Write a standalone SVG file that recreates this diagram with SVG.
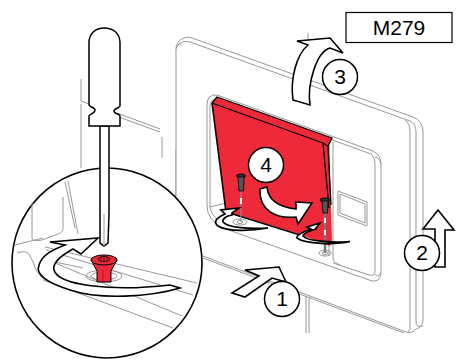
<svg xmlns="http://www.w3.org/2000/svg" width="459" height="361" viewBox="0 0 459 361">
<style>
.g{fill:none;stroke:#989898;stroke-width:1}
.gd{fill:none;stroke:#8a8a8a;stroke-width:.9}
.a{fill:#fff;stroke:#000;stroke-width:1.6;stroke-linejoin:miter}
.s{fill:#fff;stroke:#000;stroke-width:1.7;stroke-linejoin:miter}
.k{fill:none;stroke:#000;stroke-width:1.3}
.c{fill:#fff;stroke:#000;stroke-width:1.5}
.t{font-family:"Liberation Sans",Arial,sans-serif;font-size:21px;fill:#000;text-anchor:middle}
</style>
<g id="background">
<path class="g" d="M81,79V101L89,104M81,104V168"/>
<path class="g" d="M117,113L160,129M116,116L160,132"/>
<path class="g" d="M176,150V197M162,137V158"/>
<path class="g" d="M306,296V333M309,297V333"/>
<path class="g" d="M308,33V44"/>
</g>
<g id="plate">
<path d="M176,49Q176,41 184,38L188,37L415,118Q423,122 423,132V320Q423,328 416,331L410,333L203,257L176,240Z" fill="#fff" stroke="none"/>
<path class="g" d="M176,197V49Q176,41 184,38Q187,36 192,38L413,117Q423,121 423,132V320Q423,327 416,329Q412,334 406,332L203,256"/>
<path class="g" d="M178,45Q182,40 190,42L410,121Q416,124 416,132V322Q416,328 423,326M176,49Q177,44 181,44"/>
<path class="g" d="M405,120Q410,123 410,132V326Q411,330 408,332M203,258L404,333"/>
</g>
<g id="opening">
<path d="M207,105Q207,94 217,95L373,151Q381,155 381,164V272Q381,282 372,281L223,228Q207,222 207,205Z" fill="#fff" stroke="none"/>
<path class="g" d="M207,205V105Q207,94 217,95L373,151Q381,155 381,164V272Q381,282 372,281L223,228"/>
<path class="g" d="M210,207V107Q210,98 219,99L371,154Q375,157 375,166V270Q375,277 369,275L333,263"/>
<path class="g" d="M375,157Q380,158 381,164M375,274Q378,278 380,274"/>
<path class="g" d="M207,205Q207,220 222,227M210,207L226,203M210,207Q212,218 222,222"/>
<path class="g" d="M329,142V256M333,142V258Q333,262 340,265"/>
<path class="g" d="M338,191L367,202V226L338,215Z"/>
<path class="g" d="M340,194L365,204V223L340,213Z"/>
</g>
<g id="panel">
<path d="M212,103L217,97L332,138L329,143L332,240L330,246L296,233L226,212Z" fill="#ee2a3a" stroke="none"/>
<path class="k" d="M212,103L217,97L332,138L328,146L323,143L212,103M323,143L329,208M328,146L331,205"/>
<path d="M212,103L226,212L300,235" fill="none" stroke="#000" stroke-width="1.6"/>
</g>
<g id="small-screws">
<path class="g" d="M241,190V222" stroke-width="2.2"/>
<path d="M240,198h2v6h-2z" fill="#fff"/>
<ellipse cx="241" cy="176" rx="4.500" ry="2" fill="#333" stroke="#000"/>
<path d="M238,177H244L243.500,191H239Z" fill="#555" stroke="#000" stroke-width=".8"/>
<ellipse class="gd" cx="240" cy="222" rx="7" ry="3"/>
<ellipse class="gd" cx="240" cy="222" rx="3" ry="1.500"/>
<path d="M325,197V253" fill="none" stroke="#777" stroke-width="2.400"/>
<path d="M324,218h2v5h-2zM324,230h2v5h-2z" fill="#fff"/>
<ellipse cx="325" cy="200" rx="5" ry="2" fill="#333" stroke="#000"/>
<path d="M322,201H328L327.500,213H323Z" fill="#555" stroke="#000" stroke-width=".8"/>
<ellipse class="gd" cx="325" cy="253" rx="6" ry="3"/>
<ellipse class="gd" cx="325" cy="253" rx="3" ry="1.500"/>
</g>
<g id="connectors">
<path class="a" d="M260,189L267,187C268,200 278,207 296,209L296,202L312,203L298,224L296,217C275,219 259,210 260,189Z"/>
<path class="s" d="M239,208L221,210L225,214C216,218 213,222 218,226C228,232 252,231 268,228C250,229 228,228 223,222C222,219 226,216 232,215L232,213Z"/>
<path class="s" d="M320,223L307,227L311,229C302,232 296,236 297,238C305,244 335,245 350,241.500C330,243 307,241 303,236C303,233 309,231 316,229L316,228Z"/>
<path class="a" d="M293,100L310,105C307,85 316,52 330,48L343,53L330,38L297,41L308,45C296,55 290,80 293,100Z"/>
<path class="a" d="M232,293L245,297L272,278L286,282L279,267L245,270L259,276Z"/>
<path class="a" d="M435,267H445V230H454L438,210L423,229H435Z"/>
</g>
<g id="magnifier">
<circle cx="107" cy="263" r="95" fill="#fff" stroke="#000" stroke-width="1.600"/>
<path class="g" d="M65,182L75,228M68,181L78,234"/>
<path class="g" d="M32,203V238Q32,242 42,240L58,234Q64,232 63,226V197"/>
<path class="g" d="M15,245L43,238"/>
<path class="g" d="M17,253Q26,250 29,254L33,262Q36,274 47,281L50,282"/>
<path class="g" d="M45,247L197,283M46,250L193,295"/>
<path class="g" d="M55,263L182,316M43,280L173,328"/>
<path class="g" d="M55,262L83,268"/>
<ellipse class="g" cx="104" cy="276" rx="18" ry="6"/>
<ellipse class="g" cx="104" cy="276" rx="13" ry="4"/>
<path d="M91,260L97,271V282H111V271L117,260Z" fill="#ee2a3a" stroke="#000"/>
<path d="M103,270V282" stroke="#a01018" stroke-width=".7" fill="none"/>
<ellipse cx="104" cy="260" rx="13" ry="5" fill="#ee2a3a" stroke="#000"/>
<ellipse cx="104" cy="259" rx="6" ry="2.500" fill="none" stroke="#000" stroke-width=".8"/>
<path d="M101,257v4M104,257v4M107,257v4" fill="none" stroke="#000" stroke-width=".7"/>
<path class="a" d="M180,288C150,297 100,300 70,290C48,283 35,275 39,265C42,255 52,250 65,245L50,242L98,238L81,254L73,249C62,255 52,262 54,270C58,285 110,292 170,285Z"/>
</g>
<g id="screwdriver">
<path d="M100,126V243L104,246L108,243L109,214V126Z" fill="#fff" stroke="#000" stroke-width="1.500"/>
<path d="M104,214V246" stroke="#999" fill="none"/>
<path d="M89,43C89,33 96,28 104,28C113,28 120,33 120,43V106C120,108 114,108 114,111C114,114 120,114 120,116V126H89V116C89,114 95,114 95,110C95,107 89,107 89,105Z" fill="#fff" stroke="#000" stroke-width="1.500"/>
</g>
<g id="label-1"><circle class="c" cx="282" cy="299" r="17.500"/><text class="t" x="282" y="306">1</text></g>
<g id="label-2"><circle class="c" cx="422" cy="253" r="17.500"/><text class="t" x="422" y="260">2</text></g>
<g id="label-3"><circle class="c" cx="340" cy="77" r="17.500"/><text class="t" x="340" y="84">3</text></g>
<g id="label-4"><circle class="c" cx="266" cy="165" r="17.500"/><text class="t" x="266" y="172">4</text></g>
<g id="model"><rect x="346" y="12.500" width="106" height="30" fill="#fff" stroke="#000" stroke-width="1.200"/><text class="t" x="399" y="35">M279</text></g>
</svg>
